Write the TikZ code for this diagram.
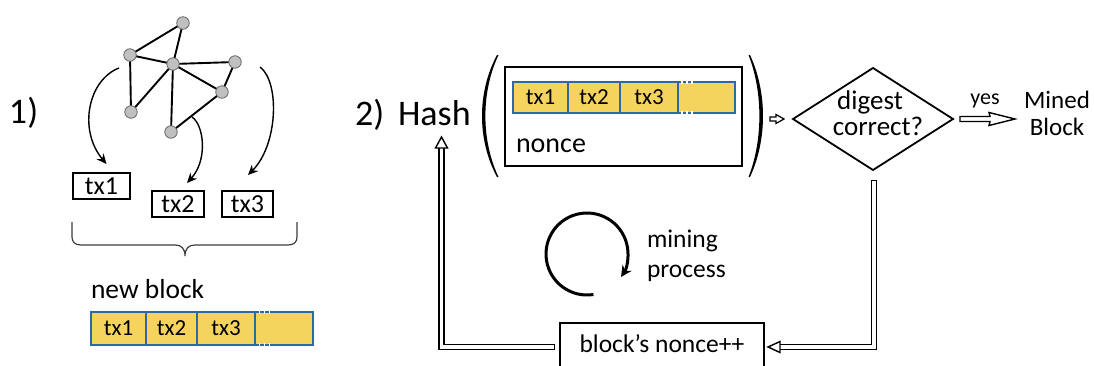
\documentclass[tikz,border=0pt]{standalone}
\usepackage{fontspec}
\setmainfont{Carlito}
\usetikzlibrary{arrows.meta,calc,shapes.geometric}
\definecolor{cellfill}{RGB}{245,212,94}
\definecolor{cellline}{RGB}{46,106,162}
\definecolor{vfill}{RGB}{192,192,192}
\definecolor{vline}{RGB}{105,105,105}
\definecolor{bracegray}{RGB}{60,60,60}
\newcommand\fsz[1]{\fontsize{#1pt}{#1pt}\selectfont}

\tikzset{
  vert/.style={circle, fill=vfill, draw=vline, line width=0.8pt, minimum size=12.5pt, inner sep=0pt},
  edge/.style={line width=1.9pt},
  pick/.style={line width=1.4pt, -{Stealth[length=10pt,width=9pt]}},
  txbox/.style={draw, line width=1.6pt, inner sep=0pt, outer sep=0pt, font=\fsz{26}},
  cell/.style={draw=cellline, fill=cellfill, line width=2.2pt, inner sep=0pt, outer sep=0pt,
               font=\fsz{23}, anchor=north west},
  lbl/.style={inner sep=0pt, outer sep=0pt},
  dblo/.style={line width=6.6pt, line join=miter},
  dbli/.style={white, line width=3.8pt, line join=miter},
  openhead/.style={fill=white, draw=black, line width=1.4pt, line join=miter},
  gap/.style={white, line width=1.3pt},
}

\begin{document}
\begin{tikzpicture}[x=1pt, y=-1pt]
\useasboundingbox (0,0) rectangle (1094,365);
\clip (0,0) rectangle (1094,365);

% ---------- part 1: peer network and new block ----------
\node[lbl, font=\fsz{36}, anchor=base west] (one) at (9,123) {1)};

\coordinate (v1) at (183,23);
\coordinate (v2) at (130,55);
\coordinate (v3) at (173,64);
\coordinate (v4) at (235,62);
\coordinate (v5) at (222,92);
\coordinate (v6) at (131,112);
\coordinate (v7) at (171,132);
\foreach \a/\b in {v1/v2, v1/v3, v2/v3, v2/v6, v3/v6, v3/v4, v3/v5, v3/v7, v4/v5, v5/v7}
  \draw[edge] (\a) -- (\b);
\foreach \v in {v1,v2,v3,v4,v5,v6,v7}
  \node[vert] (n\v) at (\v) {};

\node[txbox, minimum width=57pt, minimum height=26pt] (t1) at (101.5,186) {tx1};
\node[txbox, minimum width=52pt, minimum height=26pt] (t2) at (178,204) {tx2};
\node[txbox, minimum width=51pt, minimum height=26pt] (t3) at (247.5,204) {tx3};

\coordinate (s1) at (119,68);
\coordinate (s2) at (192,117);
\coordinate (s3) at (260,67);
\draw[pick] (s1) .. controls (88,80) and (78,130) .. ($(t1.north)+(5,-9)$);
\draw[pick] (s2) .. controls (204,125) and (208,160) .. ($(t2.north)+(9,-8)$);
\draw[pick] (s3) .. controls (280,82) and (278,145) .. ($(t3.north)+(0.5,-16)$);

% brace gathering the transactions
\draw[bracegray, line width=1.2pt]
  (72,222) -- (72,237) .. controls (72,242) and (75,245) .. (81,245)
  -- (175,245) .. controls (181,245) and (185,248) .. (185,256)
  .. controls (185,248) and (189,245) .. (195,245)
  -- (288,245) .. controls (294,245) and (297,242) .. (297,237) -- (297,222);

\node[lbl, font=\fsz{27.5}, anchor=base west] (nbk) at (91,298) {new block};

\node[cell, minimum width=55pt, minimum height=33pt] (b1) at (91,312) {tx1};
\node[cell, minimum width=51pt, minimum height=33pt] (b2) at (b1.north east) {tx2};
\node[cell, minimum width=58pt, minimum height=33pt] (b3) at (b2.north east) {tx3};
\node[cell, minimum width=58pt, minimum height=33pt] (b4) at (b3.north east) {};
\foreach \dx in {4.5,9.5,14.5} {
  \draw[gap] ($(b3.north east)+(\dx,-1.6)$) -- ++(0,3.2);
  \draw[gap] ($(b3.south east)+(\dx,-1.6)$) -- ++(0,3.2);
}

% ---------- part 2: hashing loop ----------
\node[lbl, font=\fsz{36}, anchor=base west] (two) at (355,125) {2)};
\node[lbl, font=\fsz{36}, anchor=base west] (hash) at (398,125) {Hash};

% parentheses around the block
\fill (497,55) .. controls (477,92) and (477,140) .. (497,177)
  -- (498.5,177) .. controls (481,140) and (481,92) .. (498.5,55) -- cycle;
\fill (750,55) .. controls (767.3,92) and (767.3,140) .. (750,177)
  -- (748.5,177) .. controls (763,140) and (763,92) .. (748.5,55) -- cycle;

\node[draw, line width=2pt, inner sep=0pt, outer sep=0pt,
      minimum width=237pt, minimum height=99pt] (hb) at (623.5,116.5) {};
\node[cell, minimum width=55pt, minimum height=31pt] (c1) at (513,82) {tx1};
\node[cell, minimum width=52pt, minimum height=31pt] (c2) at (c1.north east) {tx2};
\node[cell, minimum width=58pt, minimum height=31pt] (c3) at (c2.north east) {tx3};
\node[cell, minimum width=57pt, minimum height=31pt] (c4) at (c3.north east) {};
\foreach \dx in {4,9,14} {
  \draw[gap] ($(c3.north east)+(\dx,-1.6)$) -- ++(0,3.2);
  \draw[gap] ($(c3.south east)+(\dx,-1.6)$) -- ++(0,3.2);
}
\node[lbl, font=\fsz{28}, anchor=base west] (nonce) at (516,152) {nonce};

% decision
\node[diamond, draw, line width=1.8pt, inner sep=0pt, outer sep=0pt,
      minimum width=160pt, minimum height=102pt] (d) at (873,119) {};
\node[lbl, font=\fsz{27}, anchor=base] (dg1) at (870,109) {digest};
\node[lbl, font=\fsz{27}, anchor=base] (dg2) at (878,135) {correct?};

% small arrow from the hash into the decision
\draw[openhead, line width=1.2pt] ($(d.west)+(-23,-2)$) -- ++(6,0) -- ++(0,-2.5) -- ++(8,4.5)
  -- ++(-8,4.5) -- ++(0,-2.5) -- ++(-6,0) -- cycle;

% yes arrow to the mined block
\draw[openhead, line width=1.4pt] ($(d.east)+(7,-2.5)$) -- ++(30,0) -- ++(-1,-4) -- ++(26,6.5)
  -- ++(-26,6.5) -- ++(1,-4) -- ++(-30,0) -- cycle;
\node[lbl, font=\fsz{22}, anchor=base] (yes) at (985,104) {yes};
\node[lbl, font=\fsz{25}, anchor=base] (mb1) at (1057,108) {Mined};
\node[lbl, font=\fsz{25}, anchor=base] (mb2) at (1057,135) {Block};

% nonce increment
\node[draw, line width=2pt, inner sep=0pt, outer sep=0pt, font=\fsz{25.5},
      minimum width=204pt, minimum height=48pt, text height=17pt, text depth=7pt]
      (nb) at (662,347) {block\char"27 s nonce++};

% no -> increment the nonce
\coordinate (dout) at ($(d.south)+(1,10)$);
\draw[dblo] (dout) |- ($(nb.east)+(16,0)$);
\draw[dbli, shorten <=1.4pt] (dout) |- ($(nb.east)+(16,0)$);
\draw[openhead] ($(nb.east)+(4,0)$) -- ++(12,-5.5) -- ++(0,11) -- cycle;

% back into the hash
\coordinate (htip) at (441.5,137);
\draw[dblo] ($(nb.west)+(-5,0)$) -| ($(htip)+(0,11)$);
\draw[dbli, shorten <=1.4pt] ($(nb.west)+(-5,0)$) -| ($(htip)+(0,11)$);
\draw[openhead] (htip) -- ++(-6,11) -- ++(12,0) -- cycle;

% mining cycle
\coordinate (cyc) at (587,254);
\draw[line width=3pt, -{Stealth[length=11pt,width=11pt]}]
  ($(cyc)+(81:41)$) arc[start angle=81, end angle=394, radius=41];
\node[lbl, font=\fsz{25.5}, anchor=base west] (mp1) at (647,247) {mining};
\node[lbl, font=\fsz{25.5}, anchor=base west] (mp2) at (647,277) {process};
\end{tikzpicture}
\end{document}
